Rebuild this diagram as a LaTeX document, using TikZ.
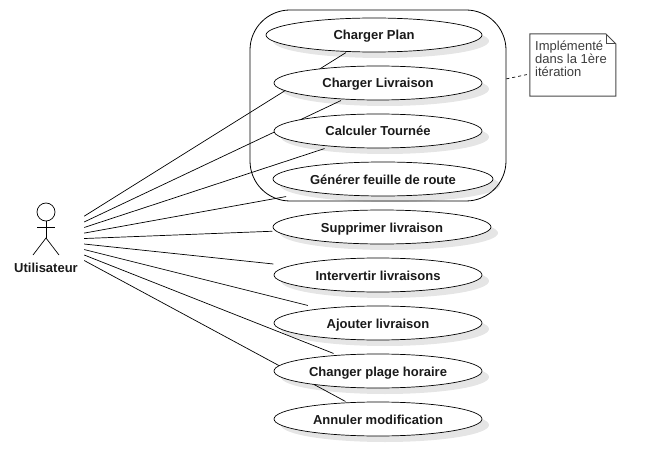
\documentclass[tikz,border=0pt]{standalone}
\usepackage{fontspec}
\setmainfont{Liberation Sans}
\usetikzlibrary{shapes.geometric,shadows,backgrounds,fit}
\definecolor{ink}{HTML}{1A1A1A}
\tikzset{
	usecase/.style={draw=black, ellipse, fill=white, inner sep=0pt, minimum width=208pt, minimum height=34pt,
		line width=0.7pt, font=\fontsize{13}{15}\selectfont\bfseries, text=ink, text height=12pt, text depth=2pt, node distance=48pt,
		drop shadow={shadow xshift=7pt, shadow yshift=-6pt, opacity=0.1, fill=black}},
	assoc/.style={draw=black, line width=0.7pt}
}
\begin{document}
\begin{tikzpicture}[x=1pt, y=-1pt]
	\useasboundingbox (0,0) rectangle (656,476);
	\node (user) [minimum width=76pt, minimum height=76pt, inner sep=0pt] at (46,240) {};
	\node (head) [draw, line width=0.7pt, circle, minimum size=18pt, inner sep=0pt] at (46,212) {};
	\coordinate (hip) at (46,238);
	\coordinate (armL) at (37,227);
	\coordinate (armR) at (55,227);
	\coordinate (legL) at (33,255);
	\coordinate (legR) at (59,255);
	\draw [line width=0.7pt] (head) -- (hip);
	\draw [line width=0.7pt] (armL) -- (armR);
	\draw [line width=0.7pt] (legL) -- (hip) -- (legR);
	\node (username) [anchor=base, font=\fontsize{13}{15}\selectfont\bfseries, text=ink] at (46,272.5) {Utilisateur};

	\node (plan) [usecase, minimum width=216pt] at (374,35) {Charger Plan};
	\node (livraison) [usecase] at (378,83) {Charger Livraison};
	\node (tournee) [usecase, below of = livraison] {Calculer Tournée};
	\node (feuille) [usecase, minimum width=220pt] at (383,179) {Générer feuille de route};
	\node (supprimer) [usecase, minimum width=218pt] at (382,227) {Supprimer livraison};
	\node (intervertir) [usecase] at (378,275) {Intervertir livraisons};
	\node (ajouter) [usecase, below of = intervertir] {Ajouter livraison};
	\node (plage) [usecase, below of = ajouter] {Changer plage horaire};
	\node (annuler) [usecase, below of = plage] {Annuler modification};

	\node (group) [draw, line width=0.8pt, rectangle, rounded corners=40pt, minimum width=256pt, minimum height=191pt, inner sep=0pt] at (378,105.5) {};

	\node (note) [minimum width=86pt, minimum height=62pt, inner sep=0pt] at (573,65) {};
	\node (notetext) [anchor=north west, align=left, inner sep=0pt, text=ink!85,
		font=\fontsize{13}{13}\selectfont] at (535,41) {Implémenté\\dans la 1ère\\itération};
	\draw [draw=ink!80, line width=1pt] (note.north west) -- ++(76,0) -- ++(10,10) |- (note.south west) -- cycle;
	\draw [draw=ink!80, line width=0.8pt] (note.north east) ++(-10,0) |- ++(10,10);

	\begin{scope}[on background layer]
		% lines stop at the box round each ellipse
		\foreach \uc in {plan,livraison,tournee,feuille,supprimer,intervertir,ajouter,plage,annuler} {
			\node (\uc box) [fit=(\uc), inner sep=0pt] {};
			\draw [assoc] (user) -- (\uc box);
		}
		\draw [dashed, line width=0.7pt] (group) -- (note);
	\end{scope}
\end{tikzpicture}
\end{document}
